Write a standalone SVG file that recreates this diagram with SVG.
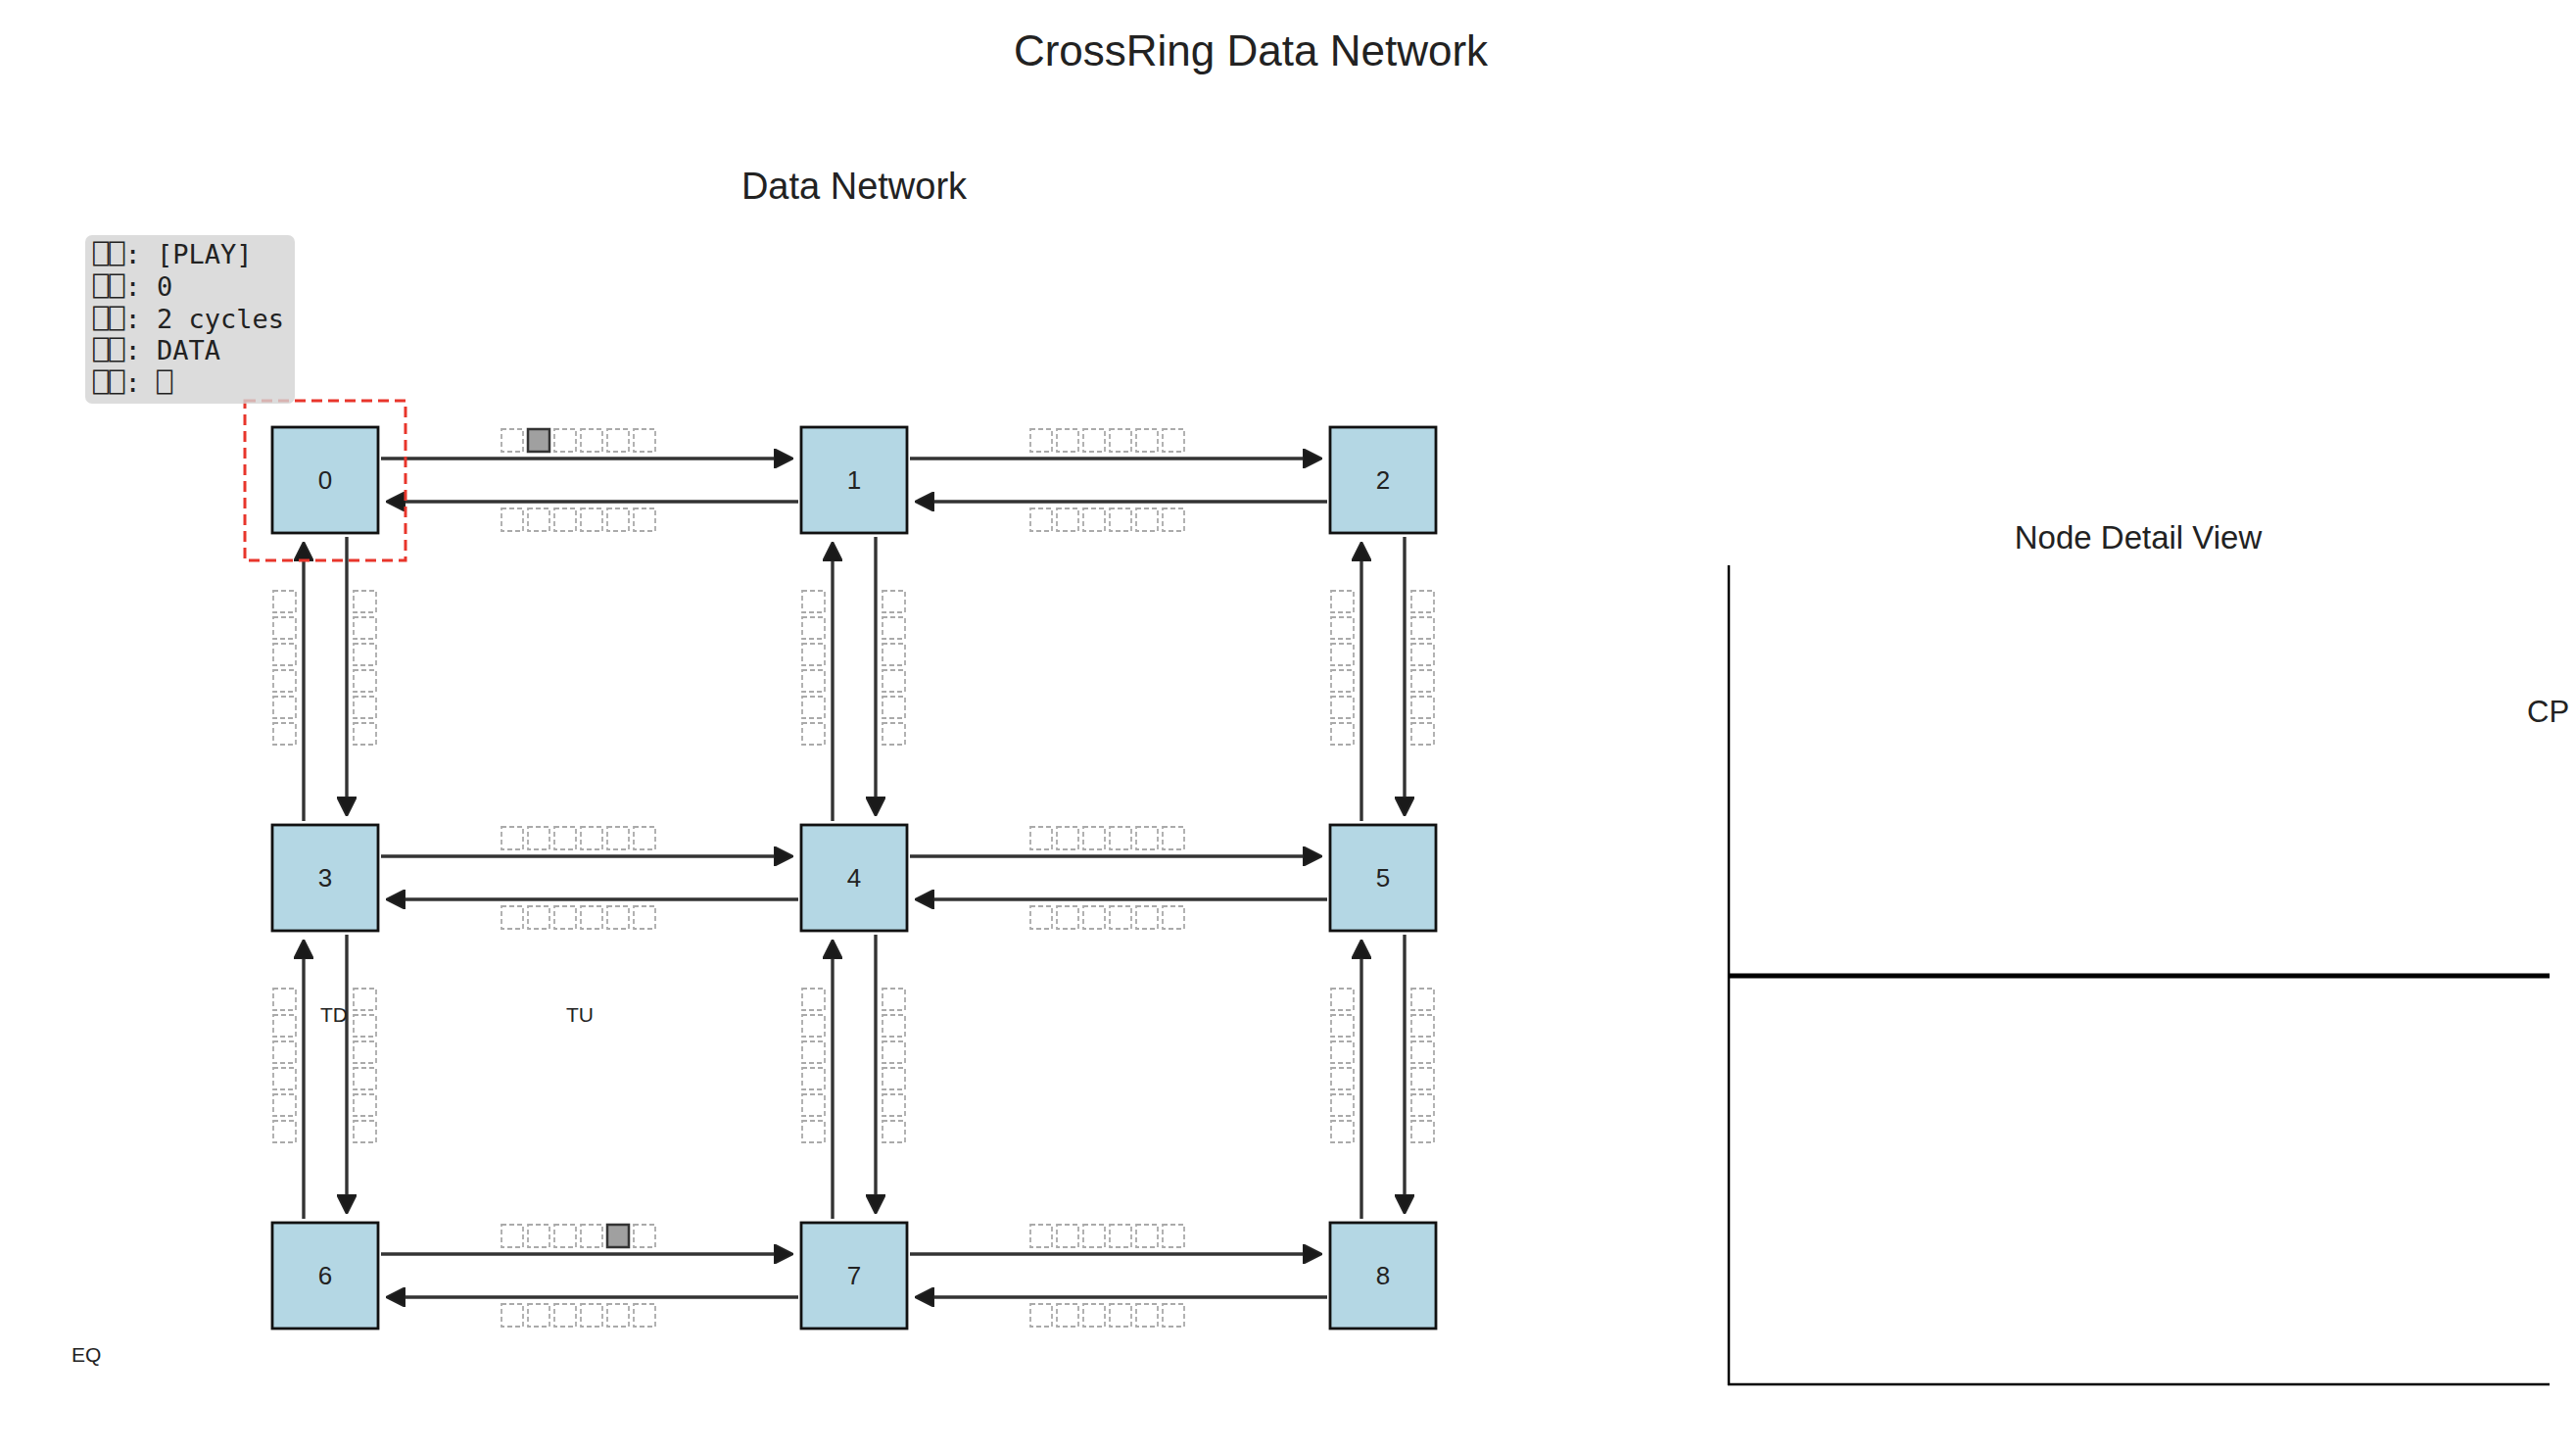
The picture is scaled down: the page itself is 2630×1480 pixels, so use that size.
<svg xmlns="http://www.w3.org/2000/svg" xmlns:xlink="http://www.w3.org/1999/xlink" width="2630" height="1480" viewBox="0 0 2630 1480">
<style>
  .node rect { fill: #b4d7e4; stroke: #111; stroke-width: 2.8; }
  .node text { font-family: "Liberation Sans", Arial, sans-serif; font-size: 26px; fill: #222; text-anchor: middle; }
  .conn line { stroke: #333; stroke-width: 3.4; marker-end: url(#ah); }
  .slot { fill: none; stroke: #aaaaaa; stroke-width: 1.8; stroke-dasharray: 5 3; }
  .busy { fill: #a0a0a0; stroke: #333; stroke-width: 2.5; }
  .lbl { font-family: "Liberation Sans", Arial, sans-serif; fill: #222; }
  .info { font-family: "DejaVu Sans Mono", "Liberation Mono", monospace; font-size: 27px; fill: #222; }
  .axis { stroke: #000; stroke-width: 2.5; }
</style>
<defs>
  <marker id="ah" viewBox="0 0 20 20" refX="8" refY="10" markerWidth="20" markerHeight="20" markerUnits="userSpaceOnUse" orient="auto">
    <path d="M0,0 L20,10 L0,20 Z" fill="#1a1a1a" stroke="#222" stroke-width="2"/>
  </marker>
  <g id="hrow">
    <rect class="slot" x="0" y="0" width="22" height="23"/>
    <rect class="slot" x="27" y="0" width="22" height="23"/>
    <rect class="slot" x="54" y="0" width="22" height="23"/>
    <rect class="slot" x="81" y="0" width="22" height="23"/>
    <rect class="slot" x="108" y="0" width="22" height="23"/>
    <rect class="slot" x="135" y="0" width="22" height="23"/>
  </g>
  <g id="vcol">
    <rect class="slot" x="0" y="0" width="23" height="22"/>
    <rect class="slot" x="0" y="27" width="23" height="22"/>
    <rect class="slot" x="0" y="54" width="23" height="22"/>
    <rect class="slot" x="0" y="81" width="23" height="22"/>
    <rect class="slot" x="0" y="108" width="23" height="22"/>
    <rect class="slot" x="0" y="135" width="23" height="22"/>
  </g>
</defs>
<rect width="2630" height="1480" fill="#fff"/>

<text class="lbl" x="1277" y="67" font-size="44" text-anchor="middle">CrossRing Data Network</text>
<text class="lbl" x="872" y="203" font-size="38" text-anchor="middle">Data Network</text>
<text class="lbl" x="2183" y="560" font-size="33" text-anchor="middle">Node Detail View</text>

<g id="slots">
  <use xlink:href="#hrow" x="512" y="438"/><use xlink:href="#hrow" x="512" y="519"/>
  <use xlink:href="#hrow" x="1052" y="438"/><use xlink:href="#hrow" x="1052" y="519"/>
  <use xlink:href="#hrow" x="512" y="844"/><use xlink:href="#hrow" x="512" y="925"/>
  <use xlink:href="#hrow" x="1052" y="844"/><use xlink:href="#hrow" x="1052" y="925"/>
  <use xlink:href="#hrow" x="512" y="1250"/><use xlink:href="#hrow" x="512" y="1331"/>
  <use xlink:href="#hrow" x="1052" y="1250"/><use xlink:href="#hrow" x="1052" y="1331"/>
  <use xlink:href="#vcol" x="279" y="603"/><use xlink:href="#vcol" x="361" y="603"/>
  <use xlink:href="#vcol" x="819" y="603"/><use xlink:href="#vcol" x="901" y="603"/>
  <use xlink:href="#vcol" x="1359" y="603"/><use xlink:href="#vcol" x="1441" y="603"/>
  <use xlink:href="#vcol" x="279" y="1009"/><use xlink:href="#vcol" x="361" y="1009"/>
  <use xlink:href="#vcol" x="819" y="1009"/><use xlink:href="#vcol" x="901" y="1009"/>
  <use xlink:href="#vcol" x="1359" y="1009"/><use xlink:href="#vcol" x="1441" y="1009"/>
  <rect class="busy" x="539" y="438" width="22" height="23"/>
  <rect class="busy" x="620" y="1250" width="22" height="23"/>
</g>

<g id="connectors" class="conn">
  <line x1="389" y1="468" x2="798" y2="468"/>
  <line x1="815" y1="512" x2="406" y2="512"/>
  <line x1="929" y1="468" x2="1338" y2="468"/>
  <line x1="1355" y1="512" x2="946" y2="512"/>
  <line x1="389" y1="874" x2="798" y2="874"/>
  <line x1="815" y1="918" x2="406" y2="918"/>
  <line x1="929" y1="874" x2="1338" y2="874"/>
  <line x1="1355" y1="918" x2="946" y2="918"/>
  <line x1="389" y1="1280" x2="798" y2="1280"/>
  <line x1="815" y1="1324" x2="406" y2="1324"/>
  <line x1="929" y1="1280" x2="1338" y2="1280"/>
  <line x1="1355" y1="1324" x2="946" y2="1324"/>
  <line x1="310" y1="838" x2="310" y2="565"/>
  <line x1="354" y1="548" x2="354" y2="821"/>
  <line x1="850" y1="838" x2="850" y2="565"/>
  <line x1="894" y1="548" x2="894" y2="821"/>
  <line x1="1390" y1="838" x2="1390" y2="565"/>
  <line x1="1434" y1="548" x2="1434" y2="821"/>
  <line x1="310" y1="1244" x2="310" y2="971"/>
  <line x1="354" y1="954" x2="354" y2="1227"/>
  <line x1="850" y1="1244" x2="850" y2="971"/>
  <line x1="894" y1="954" x2="894" y2="1227"/>
  <line x1="1390" y1="1244" x2="1390" y2="971"/>
  <line x1="1434" y1="954" x2="1434" y2="1227"/>
</g>

<g id="node0" class="node"><rect x="278" y="436" width="108" height="108"/><text x="332" y="499">0</text></g>
<g id="node1" class="node"><rect x="818" y="436" width="108" height="108"/><text x="872" y="499">1</text></g>
<g id="node2" class="node"><rect x="1358" y="436" width="108" height="108"/><text x="1412" y="499">2</text></g>
<g id="node3" class="node"><rect x="278" y="842" width="108" height="108"/><text x="332" y="905">3</text></g>
<g id="node4" class="node"><rect x="818" y="842" width="108" height="108"/><text x="872" y="905">4</text></g>
<g id="node5" class="node"><rect x="1358" y="842" width="108" height="108"/><text x="1412" y="905">5</text></g>
<g id="node6" class="node"><rect x="278" y="1248" width="108" height="108"/><text x="332" y="1311">6</text></g>
<g id="node7" class="node"><rect x="818" y="1248" width="108" height="108"/><text x="872" y="1311">7</text></g>
<g id="node8" class="node"><rect x="1358" y="1248" width="108" height="108"/><text x="1412" y="1311">8</text></g>

<rect id="highlight" x="250" y="409" width="164" height="163" fill="none" stroke="#e8352b" stroke-width="3" stroke-dasharray="11 6"/>

<g id="labels">
  <text class="lbl" x="327" y="1043" font-size="21">TD</text>
  <text class="lbl" x="578" y="1043" font-size="21">TU</text>
  <text class="lbl" x="73" y="1390" font-size="21">EQ</text>
</g>

<g id="info">
  <rect x="87" y="240" width="214" height="172" rx="7" fill="#d3d3d3" fill-opacity="0.8"/>
  <text class="info" x="95" y="269">⎕⎕: [PLAY]</text>
  <text class="info" x="95" y="302">⎕⎕: 0</text>
  <text class="info" x="95" y="335">⎕⎕: 2 cycles</text>
  <text class="info" x="95" y="367">⎕⎕: DATA</text>
  <text class="info" x="95" y="400">⎕⎕: ⎕</text>
</g>

<g id="detail">
  <line class="axis" x1="1765" y1="577" x2="1765" y2="1414"/>
  <line class="axis" x1="1764" y1="1413" x2="2603" y2="1413"/>
  <line x1="1765" y1="996" x2="2603" y2="996" stroke="#000" stroke-width="5"/>
  <text class="lbl" x="2580" y="737" font-size="31">CP</text>
</g>
</svg>
